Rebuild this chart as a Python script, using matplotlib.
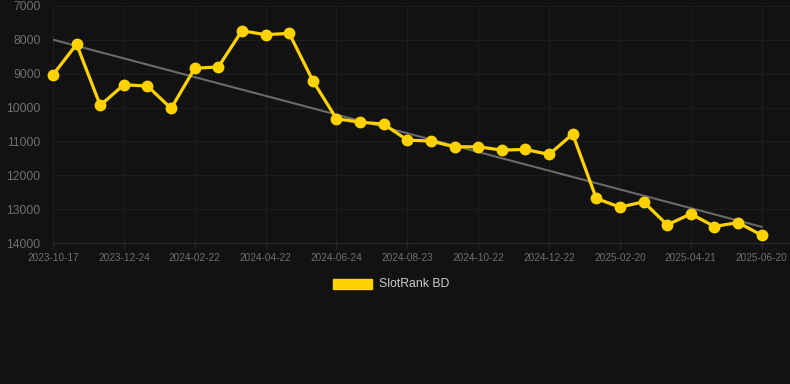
import matplotlib
matplotlib.use("Agg")
import matplotlib.pyplot as plt
import numpy as np

dates = ["2023-10-17", "2023-11-06", "2023-11-26", "2023-12-24", "2024-01-13", "2024-02-02",
         "2024-02-22", "2024-03-13", "2024-04-02", "2024-04-22", "2024-05-13", "2024-06-03",
         "2024-06-24", "2024-07-14", "2024-08-03", "2024-08-23", "2024-09-12", "2024-10-02",
         "2024-10-22", "2024-11-11", "2024-12-01", "2024-12-22", "2025-01-11", "2025-01-31",
         "2025-02-20", "2025-03-12", "2025-04-01", "2025-04-21", "2025-05-11", "2025-05-31",
         "2025-06-20"]
ranks = [9030, 8130, 9935, 9325, 9365, 10025, 8840, 8800, 7730, 7848, 7808, 9207,
         10330, 10430, 10490, 10960, 10990, 11158, 11158, 11256, 11237, 11385, 10784,
         12685, 12941, 12784, 13465, 13140, 13513, 13395, 13770]
trend = [7995, 13523]
series_name = "SlotRank BD"
y_ticks = [7000, 8000, 9000, 10000, 11000, 12000, 13000, 14000]

bg = "#121212"
grid_c = "#1d1d1d"
txt_c = "#6f6f6f"
yellow = "#FFD200"

plt.rcParams['font.family'] = ['Liberation Sans', 'DejaVu Sans']
fig = plt.figure(figsize=(7.9, 3.84), dpi=100, facecolor=bg)
ax = fig.add_axes([53/790, 1-243/384, 1-53/790, (243-6)/384])
ax.set_facecolor(bg)

x = np.arange(len(dates))
ax.plot([x[0], x[-1]], trend, color="#6a6a6a", lw=1.5, zorder=2)
ax.plot(x, ranks, color=yellow, lw=2.3, marker="o", ms=7.5, zorder=3, clip_on=False)

ax.set_ylim(14000, 7000)
ax.set_xlim(0, 31.2)
ax.set_yticks(y_ticks)
ax.set_yticklabels([str(v) for v in y_ticks], fontsize=8.8, color=txt_c)
ax.set_xticks(x[::3])
ax.set_xticklabels(dates[::3], fontsize=7.2, color=txt_c)
ax.tick_params(axis='y', length=0, pad=9)
ax.tick_params(axis='x', length=4, color="#262626", pad=3)
ax.grid(True, color=grid_c, lw=0.8)
for s in ["top", "right", "left"]:
    ax.spines[s].set_visible(False)
ax.spines["bottom"].set_color("#2a2a2a")
ax.set_axisbelow(True)

# legend
fig.patches.append(plt.Rectangle((333/790, 1-289/384), 39/790, 10/384,
                                 transform=fig.transFigure, color=yellow, figure=fig))
fig.text(379/790, 1-284/384, series_name, color="#cccccc", fontsize=8.8, va="center", ha="left")

fig.savefig("out.png", dpi=100, facecolor=bg)
